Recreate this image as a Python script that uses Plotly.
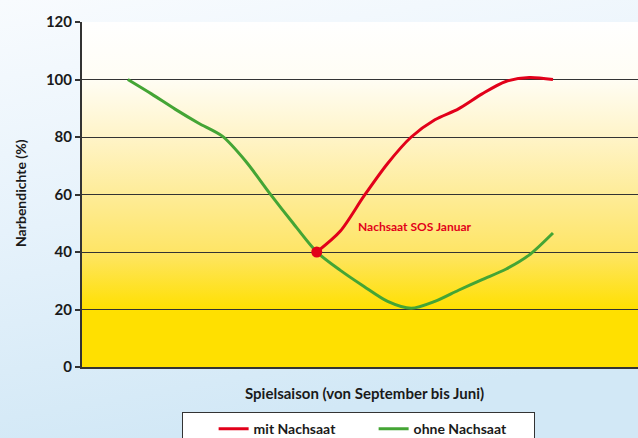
import base64
import plotly.graph_objects as go

# ---- data ----
months = [0, 0.5, 1, 1.5, 2, 2.5, 3, 3.5, 4, 4.5, 5, 5.5, 6, 6.5, 7, 7.5, 8, 8.5, 9]
ohne_nachsaat = [100, 95, 89.7, 84.8, 80.3, 71.5, 60.5, 50, 40, 33.6, 28, 22.8, 20.4, 22.8, 26.7, 30.4, 34, 39, 46.6]
mit_months = [4, 4.5, 5, 5.5, 6, 6.5, 7, 7.5, 8, 8.5, 9]
mit_nachsaat = [40, 47.3, 59.5, 70.8, 80, 86, 89.8, 95, 99.3, 100.7, 100]
y_ticks = [0, 20, 40, 60, 80, 100, 120]
nachsaat_month = 4
annotation_text = "Nachsaat SOS Januar"
x_title = "Spielsaison (von September bis Juni)"
y_title = "Narbendichte (%)"

RED = "#E2001A"
GREEN = "#44A535"
FONT = "Lato, 'Open Sans', sans-serif"

W, H = 638, 438
ML, MR, MT, MB = 82, 0, 22, 71
PW, PH = W - ML - MR, H - MT - MB


def px_x(px):
    return (px - ML) / PW


def px_y(py):
    return (H - MB - py) / PH


def svg_uri(svg):
    return "data:image/svg+xml;base64," + base64.b64encode(svg.encode()).decode()


paper_svg = (
    '<svg xmlns="http://www.w3.org/2000/svg" width="100" height="100" preserveAspectRatio="none">'
    '<defs><linearGradient id="g" x1="0" y1="0" x2="0.25" y2="1">'
    '<stop offset="0" stop-color="#F8FBFE"/><stop offset="0.5" stop-color="#E6F2FB"/>'
    '<stop offset="1" stop-color="#D2E8F6"/></linearGradient></defs>'
    '<rect width="100" height="100" fill="url(#g)"/></svg>'
)
plot_svg = (
    '<svg xmlns="http://www.w3.org/2000/svg" width="100" height="120" preserveAspectRatio="none">'
    '<defs><linearGradient id="p" x1="0" y1="0" x2="0" y2="1">'
    '<stop offset="0" stop-color="#FFFFFF"/><stop offset="0.1667" stop-color="#FFFDF4"/>'
    '<stop offset="0.3333" stop-color="#FFF4C8"/><stop offset="0.5" stop-color="#FEEC98"/>'
    '<stop offset="0.6667" stop-color="#FEE566"/><stop offset="0.8333" stop-color="#FFE000"/>'
    '<stop offset="1" stop-color="#FFE000"/></linearGradient></defs>'
    '<rect width="100" height="120" fill="url(#p)"/></svg>'
)

fig = go.Figure()
fig.add_trace(go.Scatter(
    x=mit_months, y=mit_nachsaat, mode="lines", name="mit Nachsaat",
    line=dict(color=RED, width=3, shape="spline", smoothing=0.8),
))
fig.add_trace(go.Scatter(
    x=months, y=ohne_nachsaat, mode="lines", name="ohne Nachsaat",
    line=dict(color=GREEN, width=3, shape="spline", smoothing=0.8),
))
fig.add_trace(go.Scatter(
    x=[nachsaat_month], y=[mit_nachsaat[0]], mode="markers", showlegend=False,
    marker=dict(color=RED, size=11),
))

fig.add_shape(type="line", x0=nachsaat_month, x1=nachsaat_month, y0=0, y1=mit_nachsaat[0],
              xref="x", yref="y", line=dict(color="#444", width=2, dash="dot"), layer="below")

fig.add_annotation(x=nachsaat_month + 0.83, y=mit_nachsaat[0] + 8.7, text=annotation_text,
                   showarrow=False, xanchor="left", yanchor="middle",
                   font=dict(family=FONT, size=12, color=RED, weight="bold"))
fig.add_annotation(x=px_x(364), y=px_y(393), xref="paper", yref="paper", text=x_title,
                   showarrow=False, xanchor="center", yanchor="middle",
                   font=dict(family=FONT, size=15, color="#1a1a1a", weight="bold"))
fig.add_annotation(x=px_x(20), y=px_y(193), xref="paper", yref="paper", text=y_title,
                   showarrow=False, textangle=-90, xanchor="center", yanchor="middle",
                   font=dict(family=FONT, size=14, color="#1a1a1a", weight="bold"))

fig.update_layout(
    width=W, height=H,
    margin=dict(l=ML, r=MR, t=MT, b=MB, autoexpand=False),
    paper_bgcolor="#E6F2FB",
    plot_bgcolor="rgba(0,0,0,0)",
    font=dict(family=FONT, color="#1a1a1a"),
    images=[
        dict(source=svg_uri(paper_svg), xref="paper", yref="paper", x=px_x(0), y=px_y(0),
             sizex=W / PW, sizey=H / PH, sizing="stretch", layer="below",
             xanchor="left", yanchor="top"),
        dict(source=svg_uri(plot_svg), xref="x domain", yref="y domain", x=0, y=1,
             sizex=1, sizey=1, sizing="stretch", layer="below", xanchor="left", yanchor="top"),
    ],
    xaxis=dict(range=[-0.97, 10.8], showgrid=False, zeroline=False, showticklabels=False,
               ticks="", showline=True, linecolor="#333", linewidth=2),
    yaxis=dict(range=[0, 120], tickvals=y_ticks, showgrid=True, gridcolor="#333", gridwidth=1.2,
               zeroline=False, showline=True, linecolor="#333", linewidth=2,
               ticks="outside", ticklen=5, tickcolor="#333", tickwidth=1.5,
               tickfont=dict(family=FONT, size=15, color="#1a1a1a", weight="bold")),
    legend=dict(orientation="h", x=px_x(182), y=px_y(412), xanchor="left", yanchor="top",
                bgcolor="white", bordercolor="#333", borderwidth=1.2,
                title=dict(text="&nbsp;" * 6, side="left", font=dict(size=14)),
                font=dict(family=FONT, size=14, color="#1a1a1a", weight="bold"),
                entrywidth=115, itemwidth=30),
    showlegend=True,
)

fig.write_html("out.html", config={"displayModeBar": False},
               post_script="document.body.style.margin='0';")
